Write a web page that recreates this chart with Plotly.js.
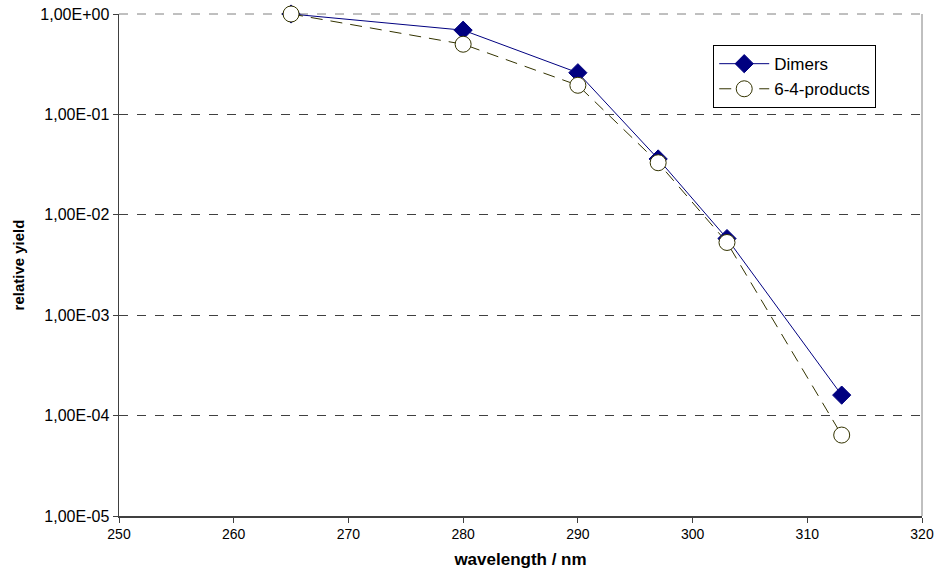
<!DOCTYPE html>
<html>
<head>
<meta charset="utf-8">
<script src="https://cdn.plot.ly/plotly-3.0.1.min.js"></script>
<style>html,body{margin:0;padding:0;background:#fff;}#chart{width:934px;height:580px;}</style>
</head>
<body>
<div id="chart"></div>
<script>
const wavelengths = [265, 280, 290, 297, 303, 313];
const dimers = [1.0, 0.69, 0.26, 0.036, 0.0058, 0.00016];
const products64 = [1.0, 0.50, 0.195, 0.033, 0.0053, 0.000064];
const yTickVals = [1, 0.1, 0.01, 0.001, 0.0001, 0.00001];
const yTickText = ["1,00E+00", "1,00E-01", "1,00E-02", "1,00E-03", "1,00E-04", "1,00E-05"];
const xTickVals = [250, 260, 270, 280, 290, 300, 310, 320];

const traces = [
  {
    x: wavelengths, y: dimers, name: "Dimers", type: "scatter", mode: "lines+markers",
    cliponaxis: false,
    line: {color: "#000080", width: 1},
    marker: {symbol: "diamond", size: 14, color: "#000080", line: {color: "#000080", width: 1}}
  },
  {
    x: wavelengths, y: products64, name: "6-4-products", type: "scatter", mode: "lines+markers",
    cliponaxis: false,
    line: {color: "#333300", width: 1, dash: "12px,8px"},
    marker: {symbol: "circle", size: 16, color: "#ffffff", line: {color: "#333300", width: 1}}
  }
];

const layout = {
  width: 934, height: 580,
  margin: {l: 119, r: 12, t: 14, b: 64},
  paper_bgcolor: "#ffffff", plot_bgcolor: "#ffffff",
  font: {family: "Liberation Sans, Arial, sans-serif", size: 12, color: "#000"},
  showlegend: true,
  legend: {
    x: 0.74, y: 0.938, xanchor: "left", yanchor: "top",
    bordercolor: "#000", borderwidth: 1, bgcolor: "#fff",
    font: {size: 17, family: "Liberation Sans, Arial, sans-serif"},
    itemwidth: 50,
    tracegroupgap: 2
  },
  xaxis: {
    range: [250, 320], tickvals: xTickVals, ticktext: xTickVals.map(String),
    showgrid: false, zeroline: false,
    showline: true, linecolor: "#404040", linewidth: 1.5,
    ticks: "outside", ticklen: 5, tickcolor: "#404040",
    tickfont: {size: 14},
    ticklabeloverflow: "allow",
    title: {text: "<b>wavelength / nm</b>", font: {size: 17}, standoff: 12}
  },
  yaxis: {
    type: "log", range: [-5, 0], tickvals: yTickVals, ticktext: yTickText,
    showgrid: true, gridcolor: "#404040", griddash: "dash", gridwidth: 1,
    zeroline: false, showline: true, linecolor: "#404040", linewidth: 1.5,
    ticks: "outside", ticklen: 5, tickcolor: "#404040",
    tickfont: {size: 16},
    title: {text: "<b>relative yield</b>", font: {size: 15}, standoff: 12}
  },
  shapes: [
    {type: "line", xref: "paper", yref: "paper", x0: 1, x1: 1, y0: 0, y1: 1, line: {color: "#808080", width: 1}},
    {type: "line", xref: "paper", yref: "paper", x0: 0, x1: 1, y0: 1, y1: 1, layer: "below", line: {color: "#808080", width: 1, dash: "dash"}}
  ]
};

Plotly.newPlot("chart", traces, layout, {displayModeBar: false, staticPlot: true});
</script>
</body>
</html>
